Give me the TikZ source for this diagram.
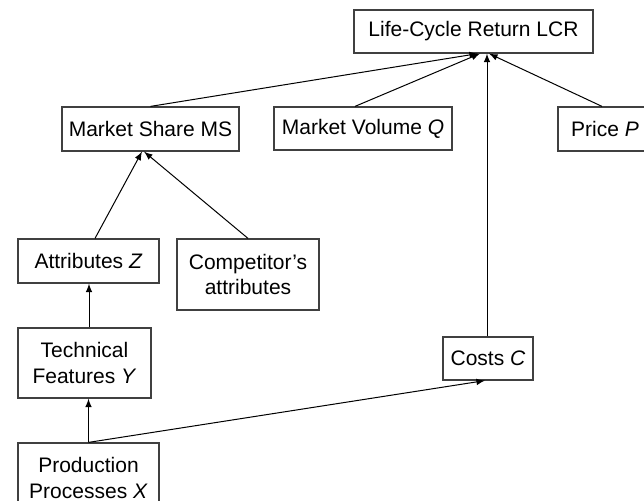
\documentclass[tikz,border=0pt]{standalone}
\usepackage{fontspec}
\setmainfont{Liberation Sans}
\usetikzlibrary{arrows}
\definecolor{mframe}{rgb}{0.25, 0.25, 0.25}

\begin{document}
\begin{tikzpicture}[x=0.5pt, y=-0.5pt,
    box/.style={draw=mframe, line width=0.6pt, inner sep=0pt, align=center,
      font=\fontsize{10.5}{13}\selectfont},
    link/.style={->, >=latex, line width=0.5pt}]
      \clip (0, 0) rectangle (644, 501);
      \node [box, minimum width=119.5pt, minimum height=21.5pt] (lcr) at (473.5, 31.5) {Life-Cycle Return LCR};
      \node [box, minimum width=88.5pt, minimum height=22pt] (ms) at (150.5, 129) {Market Share MS};
      \node [box, minimum width=89pt, minimum height=21.5pt] (mv) at (363, 128.5) {Market Volume \textit{Q}};
      \node [box, minimum width=47pt, minimum height=22pt] (price) at (605, 129) {Price \textit{P}};
      \node [box, minimum width=70.5pt, minimum height=22pt] (attz) at (88.5, 261) {Attributes \textit{Z}};
      \node [box, minimum width=71pt, minimum height=35.5pt] (comp) at (248, 274.5) {Competitor’s\\attributes};
      \node [box, minimum width=66.5pt, minimum height=35pt] (tech) at (84.5, 363) {Technical\\Features \textit{Y}};
      \node [box, minimum width=45pt, minimum height=21.5pt] (costs) at (488, 358.5) {Costs \textit{C}};
      \node [box, minimum width=70.5pt, minimum height=35pt] (prod) at (88.5, 478) {Production\\Processes \textit{X}};
      \draw [link] (ms.north) -- ([xshift=2.25pt]lcr.south);
      \draw [link] ([xshift=-4pt]mv.north) -- ([xshift=3.25pt]lcr.south);
      \draw [link] ([xshift=-0.5pt]costs.north) -- ([xshift=-0.5pt]costs.north |- lcr.south);
      \draw [link] ([xshift=-1.5pt]price.north) -- ([xshift=7.75pt]lcr.south);
      \draw [link] ([xshift=3.25pt]attz.north) -- ([xshift=-4.25pt]ms.south);
      \draw [link] (comp.north) -- ([xshift=-3.25pt]ms.south);
      \draw [link] ([xshift=2.25pt]tech.north) -- ([xshift=2.25pt]tech.north |- attz.south);
      \draw [link] (prod.north) -- (prod.north |- tech.south);
      \draw [link] (prod.north) -- ([xshift=-1.5pt]costs.south);
    \end{tikzpicture}
\end{document}
